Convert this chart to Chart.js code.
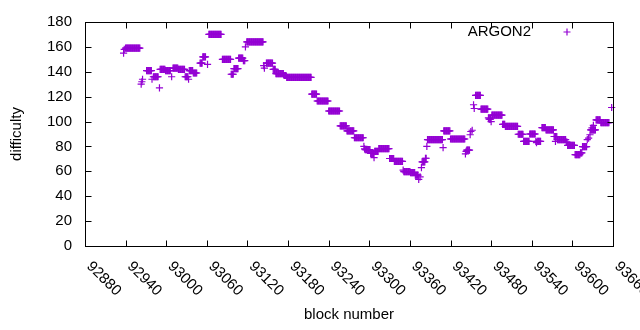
<!DOCTYPE html>
<html>
<head>
<meta charset="utf-8">
<script src="https://cdn.jsdelivr.net/npm/chart.js@4.4.1/dist/chart.umd.min.js"></script>
<style>
  html, body { margin: 0; padding: 0; background: #fff; }
</style>
</head>
<body>
<canvas id="chart" width="640" height="330"></canvas>
<script>
// difficulty stays flat for a stretch of blocks, so the series is kept as runs:
// first block, number of blocks, difficulty
const runStart = [
  92937, 92938, 92940, 92963, 92964, 92965, 92971, 92979, 92981, 92990,
  92991, 92999, 93008, 93010, 93018, 93028, 93033, 93034, 93040, 93050,
  93054, 93061, 93063, 93083, 93096, 93100, 93107, 93114, 93117, 93119,
  93144, 93145, 93148, 93158, 93162, 93174, 93178, 93215, 93223, 93240,
  93257, 93267, 93278, 93292, 93293, 93294, 93302, 93307, 93308, 93314,
  93330, 93337, 93350, 93351, 93361, 93368, 93373, 93375, 93377, 93378,
  93383, 93385, 93386, 93409, 93410, 93420, 93442, 93443, 93444, 93449,
  93450, 93452, 93454, 93455, 93457, 93465, 93476, 93477, 93480, 93481,
  93497, 93501, 93520, 93528, 93537, 93546, 93547, 93548, 93555, 93561,
  93573, 93575, 93578, 93591, 93593, 93604, 93612, 93615, 93622, 93624,
  93626, 93627, 93629, 93631, 93635, 93642, 93658
];
const runLength = [
  1, 1, 22, 1, 1, 1, 8, 1, 8, 1,
  8, 8, 1, 8, 10, 5, 1, 6, 6, 4,
  5, 1, 19, 13, 4, 7, 7, 3, 1, 25,
  1, 1, 10, 4, 12, 4, 37, 8, 17, 17,
  10, 11, 14, 1, 1, 8, 5, 1, 6, 16,
  7, 13, 1, 10, 7, 5, 1, 1, 1, 5,
  2, 1, 23, 1, 10, 22, 1, 1, 5, 1,
  1, 1, 1, 1, 8, 11, 1, 3, 1, 16,
  4, 19, 8, 9, 9, 1, 1, 6, 6, 12,
  5, 1, 13, 2, 11, 8, 3, 7, 1, 1,
  1, 8, 1, 1, 7, 13, 1
];
const runValue = [
  155, 158, 159, 130, 132, 134, 141, 134, 136, 127,
  142, 141, 136, 143, 142, 136, 134, 141, 139, 147,
  152, 146, 170, 150, 138, 142.5, 151, 149, 160, 164,
  145, 143, 147, 142, 138.5, 137, 135.5, 122, 116.5, 108.5,
  96.5, 92.5, 87, 80, 78, 77.5, 74.5, 71, 76, 78.2,
  70.3, 68, 61, 59.7, 58.9, 57, 53.6, 55.5, 63, 67.6,
  70.5, 80, 85.4, 79, 92.5, 86, 74, 76, 77, 89.4,
  92, 93, 113.5, 110.5, 121, 110, 103, 102, 100, 105.2,
  97.8, 96.2, 89.8, 84, 90, 84, 83, 84, 95.2, 93.3,
  88, 84, 85.4, 83.5, 80.9, 73.5, 74.8, 79.8, 85.4, 86.7,
  89.4, 93.3, 95, 97, 101.3, 99.1, 111.3
];

const xTicks = [92880, 92940, 93000, 93060, 93120, 93180, 93240, 93300, 93360, 93420, 93480, 93540, 93600, 93660];
const yTicks = [0, 20, 40, 60, 80, 100, 120, 140, 160, 180];
const seriesName = 'ARGON2';

const FONT = '"Liberation Sans", Arial, sans-serif';
const COLOR = '#9400d3';

let points = [];
for (let i = 0; i < runStart.length; i++) {
    for (let k = 0; k < runLength[i]; k++) {
        points.push({x: runStart[i] + k, y: runValue[i]});
    }
}

function cross(ctx, x, y, r) {
    ctx.beginPath();
    ctx.moveTo(x - r, y); ctx.lineTo(x + r, y);
    ctx.moveTo(x, y - r); ctx.lineTo(x, y + r);
    ctx.stroke();
}

// border, inward ticks on all four sides, rotated x labels and the key
const gnuplotFrame = {
    id: 'gnuplotFrame',
    afterDraw(chart) {
        const ctx = chart.ctx;
        const a = chart.chartArea;
        const xs = chart.scales.x, ys = chart.scales.y;
        const L = Math.round(a.left) + 0.5, R = Math.round(a.right) + 0.5;
        const T = Math.round(a.top) + 0.5, B = Math.round(a.bottom) + 0.5;
        ctx.save();
        ctx.strokeStyle = '#000';
        ctx.lineWidth = 1;
        ctx.beginPath();
        xTicks.forEach(v => {
            const px = Math.round(xs.getPixelForValue(v)) + 0.5;
            ctx.moveTo(px, B); ctx.lineTo(px, B - 6);
            ctx.moveTo(px, T); ctx.lineTo(px, T + 6);
        });
        yTicks.forEach(v => {
            const py = Math.round(ys.getPixelForValue(v)) + 0.5;
            ctx.moveTo(L, py); ctx.lineTo(L + 6, py);
            ctx.moveTo(R, py); ctx.lineTo(R - 6, py);
        });
        ctx.stroke();
        ctx.strokeRect(L, T, R - L, B - T);

        ctx.fillStyle = '#000';
        ctx.font = '15px ' + FONT;
        ctx.textAlign = 'left';
        ctx.textBaseline = 'middle';
        xTicks.forEach(v => {
            const px = xs.getPixelForValue(v);
            ctx.save();
            ctx.translate(px + 4, a.bottom + 18);
            ctx.rotate(Math.PI / 4);
            ctx.fillText(String(v), 0, 0);
            ctx.restore();
        });

        ctx.textAlign = 'right';
        ctx.fillText(chart.data.datasets[0].label, 531, 32);
        ctx.strokeStyle = COLOR;
        ctx.lineWidth = 1.2;
        cross(ctx, 567, 32, 3.5);
        ctx.restore();
    }
};

new Chart(document.getElementById('chart'), {
    type: 'scatter',
    data: {
        datasets: [{
            label: seriesName,
            data: points,
            pointStyle: 'cross',
            pointRadius: 3.6,
            borderWidth: 1.2,
            borderColor: COLOR,
            backgroundColor: COLOR,
            clip: false
        }]
    },
    options: {
        responsive: false,
        animation: false,
        events: [],
        layout: {padding: {left: 0, right: 27, top: 19, bottom: 0}},
        plugins: {legend: {display: false}, tooltip: {enabled: false}},
        scales: {
            x: {
                type: 'linear',
                min: 92880,
                max: 93660,
                afterBuildTicks: s => { s.ticks = xTicks.map(v => ({value: v})); },
                ticks: {display: false},
                grid: {display: false, drawTicks: false},
                border: {display: false},
                title: {display: true, text: 'block number', color: '#000',
                        font: {family: FONT, size: 15}, padding: {top: 0, bottom: 6}},
                afterFit: s => { s.height = 84; }
            },
            y: {
                min: 0,
                max: 180,
                afterBuildTicks: s => { s.ticks = yTicks.map(v => ({value: v})); },
                ticks: {padding: 13, color: '#000', font: {family: FONT, size: 15}},
                grid: {display: false, drawTicks: false},
                border: {display: false},
                title: {display: true, text: 'difficulty', color: '#000',
                        font: {family: FONT, size: 15}, padding: {top: 8, bottom: 0}},
                afterFit: s => { s.width = 85; }
            }
        }
    },
    plugins: [gnuplotFrame]
});
</script>
</body>
</html>
